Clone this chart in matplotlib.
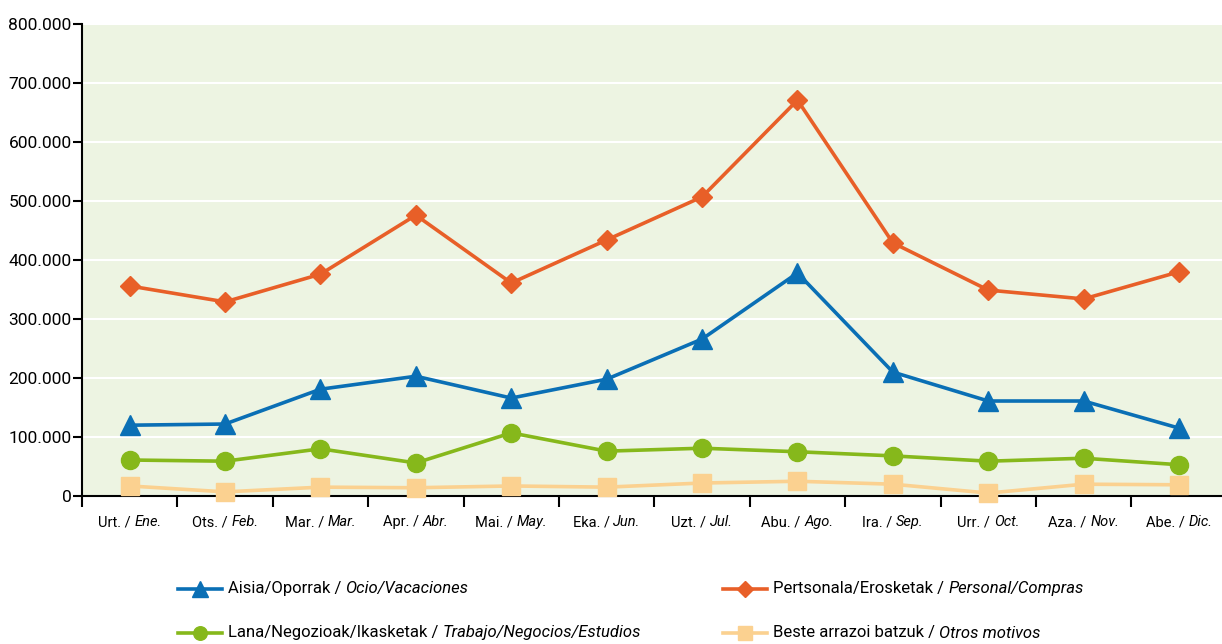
import matplotlib
matplotlib.use("Agg")
import matplotlib.pyplot as plt
from matplotlib.lines import Line2D
from matplotlib.offsetbox import TextArea, HPacker, DrawingArea, AnnotationBbox
from matplotlib.ticker import FuncFormatter

FONT = ["Roboto", "DejaVu Sans"]
plt.rcParams['font.family'] = FONT

months_eu = ["Urt. / ", "Ots. / ", "Mar. / ", "Apr. / ", "Mai. / ", "Eka. / ",
             "Uzt. / ", "Abu. / ", "Ira. / ", "Urr. / ", "Aza. / ", "Abe. / "]
months_es = ["Ene.", "Feb.", "Mar.", "Abr.", "May.", "Jun.",
             "Jul.", "Ago.", "Sep.", "Oct.", "Nov.", "Dic."]

ocio = [120000, 122000, 181000, 203000, 166000, 198000, 266000, 378000, 210000, 161000, 161000, 115000]
personal = [356000, 329000, 376000, 476000, 361000, 434000, 507000, 671000, 429000, 349000, 334000, 380000]
trabajo = [61000, 59000, 80000, 56000, 107000, 76000, 81000, 75000, 68000, 59000, 64000, 53000]
otros = [17000, 7000, 15000, 14000, 17000, 15000, 22000, 25000, 20000, 5000, 20000, 19000]

leg_eu = ["Aisia/Oporrak / ", "Pertsonala/Erosketak / ",
          "Lana/Negozioak/Ikasketak / ", "Beste arrazoi batzuk / "]
leg_es = ["Ocio/Vacaciones", "Personal/Compras",
          "Trabajo/Negocios/Estudios", "Otros motivos"]

series = [
    (ocio, "#0a6fb5", "^", 15),
    (personal, "#e85f28", "D", 10.5),
    (trabajo, "#86b81b", "o", 13),
    (otros, "#fbd190", "s", 13),
]

fig = plt.figure(figsize=(12.22, 6.44), dpi=100)
ax = fig.add_axes([82/1222, 1 - 496/644, 1 - 82/1222, (496 - 24)/644])
ax.set_facecolor("#edf4e2")

x = list(range(len(months_es)))
for vals, col, mk, ms in series[::-1]:
    ax.plot(x, vals, color=col, lw=2.6, marker=mk, ms=ms, mec=col, mfc=col,
            clip_on=False, zorder=3)

ax.set_xlim(-0.5, 11.45)
ax.set_ylim(0, 800000)
ax.set_yticks(range(0, 800001, 100000))
ax.yaxis.set_major_formatter(FuncFormatter(lambda v, p: "0" if v == 0 else f"{int(v):,}".replace(",", ".")))
ax.grid(axis='y', color='white', lw=1.5)
ax.set_axisbelow(True)
for s in ["top", "right"]:
    ax.spines[s].set_visible(False)
for s in ["left", "bottom"]:
    ax.spines[s].set_linewidth(1.5)
    ax.spines[s].set_color("black")
ax.tick_params(axis='y', length=6.5, width=1.5, labelsize=12.5, pad=1)
ax.set_xticks([i - 0.5 for i in range(12)])
ax.set_xticklabels([])
ax.tick_params(axis='x', length=8, width=1.5)

# composite x tick labels
for i in x:
    box = HPacker(children=[TextArea(months_eu[i], textprops=dict(fontsize=10.5, family=FONT)),
                            TextArea(months_es[i], textprops=dict(fontsize=10.5, family=FONT, style='italic'))],
                  align="baseline", pad=0, sep=0)
    ab = AnnotationBbox(box, (i, 0), xybox=(0, -19), xycoords=('data', 'axes fraction'),
                        boxcoords="offset points", frameon=False, box_alignment=(0.5, 0.5),
                        annotation_clip=False)
    ax.add_artist(ab)

# legend
positions = [(178, 589), (723, 589), (178, 633), (723, 633)]
for k, (vals, col, mk, ms) in enumerate(series):
    da = DrawingArea(32, 14, 0, 0)
    da.add_artist(Line2D([0, 32], [7, 7], color=col, lw=2.6))
    da.add_artist(Line2D([16], [7], color=col, marker=mk, ms=ms*0.75, mec=col, mfc=col))
    txt = HPacker(children=[TextArea(leg_eu[k], textprops=dict(fontsize=12, family=FONT)),
                            TextArea(leg_es[k], textprops=dict(fontsize=12, family=FONT, style='italic'))],
                  align="baseline", pad=0, sep=0)
    box = HPacker(children=[da, txt], align="center", pad=0, sep=4)
    px, py = positions[k]
    ab = AnnotationBbox(box, (px / 1222, 1 - py / 644), xycoords='figure fraction',
                        frameon=False, box_alignment=(0, 0.5), annotation_clip=False)
    fig.add_artist(ab)

fig.savefig("out.png", dpi=100)
